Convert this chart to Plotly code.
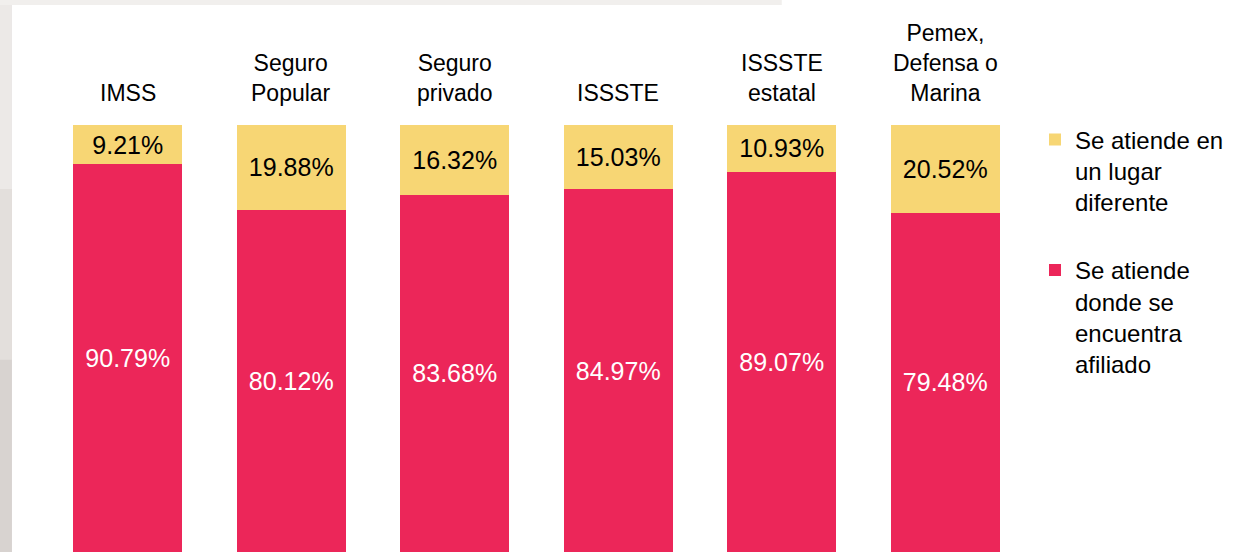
import plotly.graph_objects as go

categories = ["IMSS", "Seguro<br>Popular", "Seguro<br>privado", "ISSSTE", "ISSSTE<br>estatal", "Pemex,<br>Defensa o<br>Marina"]
afiliado = [90.79, 80.12, 83.68, 84.97, 89.07, 79.48]
diferente = [9.21, 19.88, 16.32, 15.03, 10.93, 20.52]
name_afiliado = "Se atiende<br>donde se<br>encuentra<br>afiliado"
name_diferente = "Se atiende en<br>un lugar<br>diferente"

RED = "#EC2659"
YELLOW = "#F7D674"
FONT = "Liberation Sans, Arial, sans-serif"

keys = list(range(len(categories)))

fig = go.Figure()
fig.add_trace(go.Bar(
    x=keys, y=afiliado, name=name_afiliado, marker=dict(color=RED, line=dict(width=0)),
    text=[f"{v:.2f}%" for v in afiliado], textposition="inside", insidetextanchor="middle",
    textfont=dict(color="white", size=25, family=FONT), legendgroup="a", legendrank=2,
    hoverinfo="skip"))
fig.add_trace(go.Bar(
    x=keys, y=diferente, name=name_diferente, marker=dict(color=YELLOW, line=dict(width=0)),
    text=[f"{v:.2f}%" for v in diferente], textposition="inside", insidetextanchor="middle",
    textfont=dict(color="black", size=25, family=FONT), legendgroup="b", legendrank=1,
    hoverinfo="skip"))

for k, c in zip(keys, categories):
    fig.add_annotation(x=k, y=1, xref="x", yref="paper", text=c, showarrow=False,
                       yanchor="bottom", yshift=17, font=dict(size=23, color="black", family=FONT))

# background strips (photo edge)
fig.add_shape(type="rect", xref="paper", yref="paper", x0=-0.05, x1=-0.0347, y0=0, y1=1.3,
              fillcolor="#d8d3d0", line=dict(width=0), layer="below")
fig.add_shape(type="rect", xref="paper", yref="paper", x0=-0.05, x1=-0.0347, y0=0.45, y1=1.3,
              fillcolor="#e3dfdc", line=dict(width=0), layer="below")
fig.add_shape(type="rect", xref="paper", yref="paper", x0=-0.05, x1=-0.0347, y0=0.85, y1=1.3,
              fillcolor="#ece9e7", line=dict(width=0), layer="below")
fig.add_shape(type="rect", xref="paper", yref="paper", x0=-0.05, x1=0.75, y0=1.281, y1=1.3,
              fillcolor="#f1efed", line=dict(width=0), layer="below")

fig.update_layout(
    width=1250, height=552,
    margin=dict(l=46, r=223, t=125, b=0),
    paper_bgcolor="white", plot_bgcolor="white",
    barmode="stack", bargap=0.333,
    uniformtext=dict(minsize=25, mode="show"),
    xaxis=dict(visible=False, range=[-0.5, 5.5]),
    yaxis=dict(visible=False, range=[0, 100]),
    showlegend=True,
    legend=dict(x=(1035 - 46) / 981, xanchor="left", y=1.018, yanchor="top",
                traceorder="grouped", tracegroupgap=34, valign="top",
                font=dict(size=24, color="black", family=FONT),
                bgcolor="rgba(0,0,0,0)", borderwidth=0),
    font=dict(family=FONT),
)

fig.write_html("out.html", config={"displayModeBar": False},
               post_script="document.body.style.margin='0';")
